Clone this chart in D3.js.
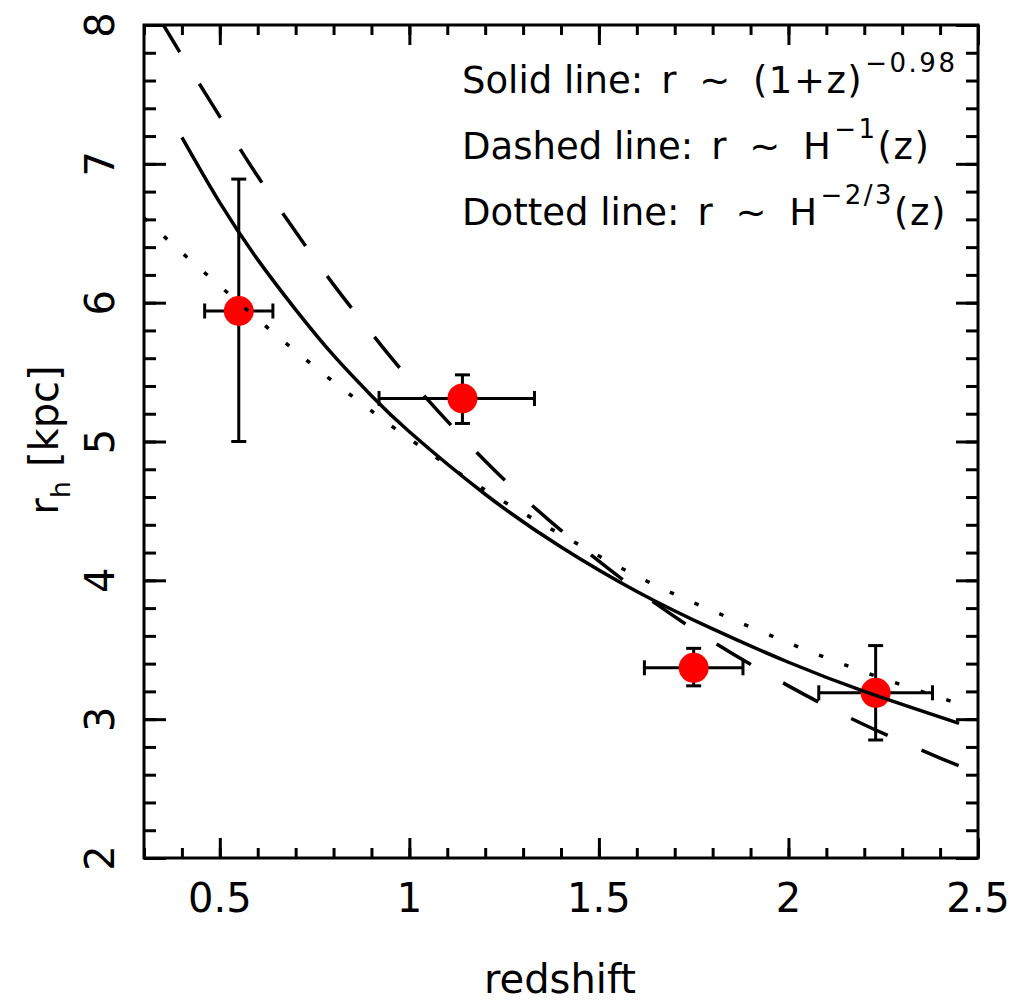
<!DOCTYPE html>
<html lang="en">
<head>
    <meta charset="UTF-8">
    <title>Half-light radius vs redshift</title>
    <script src="https://d3js.org/d3.v7.min.js"></script>
    <style>
        body, html {
            margin: 0;
            padding: 0;
            background: white;
            font-family: "DejaVu Sans", sans-serif;
            overflow: hidden;
        }
    </style>
</head>
<body>
    <div id="chart"></div>

    <script>
        // measured points with error bars
        const zObs   = [0.55, 1.14, 1.75, 2.23];
        const rObs   = [5.94, 5.31, 3.37, 3.19];
        const zLo    = [0.46, 0.92, 1.62, 2.08];
        const zHi    = [0.64, 1.33, 1.88, 2.38];
        const rLo    = [5.00, 5.13, 3.24, 2.85];
        const rHi    = [6.89, 5.48, 3.51, 3.53];

        // model curves, values
        const solidZ  = [0.40, 0.50, 0.60, 0.70, 0.80, 0.90, 1.00, 1.20, 1.40, 1.60, 1.80, 2.00, 2.20, 2.45];
        const solidR  = [7.19, 6.72, 6.31, 5.95, 5.62, 5.33, 5.07, 4.62, 4.24, 3.92, 3.65, 3.41, 3.20, 2.97];
        const dashedZ = [0.34, 0.40, 0.50, 0.60, 0.70, 0.80, 0.90, 1.00, 1.20, 1.40, 1.60, 1.80, 2.00, 2.20, 2.40, 2.50];
        const dashedR = [8.05, 7.78, 7.34, 6.91, 6.51, 6.13, 5.78, 5.45, 4.86, 4.36, 3.93, 3.56, 3.24, 2.96, 2.72, 2.61];
        const dottedZ = [0.30, 0.40, 0.50, 0.60, 0.70, 0.80, 0.90, 1.00, 1.20, 1.40, 1.60, 1.80, 2.00, 2.20, 2.45];
        const dottedR = [6.61, 6.36, 6.12, 5.88, 5.65, 5.43, 5.22, 5.02, 4.65, 4.33, 4.03, 3.78, 3.55, 3.34, 3.11];

        const xTicks = [0.5, 1, 1.5, 2, 2.5];
        const xTickLabels = ["0.5", "1", "1.5", "2", "2.5"];
        const yTicks = [2, 3, 4, 5, 6, 7, 8];
        const yTickLabels = ["2", "3", "4", "5", "6", "7", "8"];

        const width = 1013, height = 1002;
        const margin = {top: 25, right: 35, bottom: 144, left: 144};
        const innerWidth = width - margin.left - margin.right;
        const innerHeight = height - margin.top - margin.bottom;

        const svg = d3.select("#chart").append("svg")
            .attr("width", width)
            .attr("height", height);

        const g = svg.append("g")
            .attr("transform", `translate(${margin.left},${margin.top})`);

        const x = d3.scaleLinear().domain([0.3, 2.5]).range([0, innerWidth]);
        const y = d3.scaleLinear().domain([2, 8]).range([innerHeight, 0]);

        g.append("clipPath").attr("id", "plot-clip")
            .append("rect").attr("width", innerWidth).attr("height", innerHeight);

        // inward ticks on all four sides (pgplot style)
        const xMinor = x.ticks(22);
        const yMinor = y.ticks(30);
        function tickAxis(axisFn, scale, values, size, transform) {
            g.append("g")
                .attr("transform", transform)
                .call(axisFn(scale).tickValues(values).tickSize(size).tickFormat("").tickSizeOuter(0))
                .call(a => a.select(".domain").remove())
                .selectAll("line").attr("stroke", "black").attr("stroke-width", 3);
        }
        tickAxis(d3.axisBottom, x, xMinor, -10, `translate(0,${innerHeight})`);
        tickAxis(d3.axisBottom, x, xTicks, -20, `translate(0,${innerHeight})`);
        tickAxis(d3.axisTop, x, xMinor, -10, "translate(0,0)");
        tickAxis(d3.axisTop, x, xTicks, -20, "translate(0,0)");
        tickAxis(d3.axisLeft, y, yMinor, -12, "translate(0,0)");
        tickAxis(d3.axisLeft, y, yTicks, -22, "translate(0,0)");
        tickAxis(d3.axisRight, y, yMinor, -12, `translate(${innerWidth},0)`);
        tickAxis(d3.axisRight, y, yTicks, -22, `translate(${innerWidth},0)`);

        g.append("rect")
            .attr("width", innerWidth)
            .attr("height", innerHeight)
            .attr("fill", "none")
            .attr("stroke", "black")
            .attr("stroke-width", 3);

        // tick labels
        g.selectAll(".xlab")
            .data(xTicks)
            .enter().append("text")
            .attr("x", d => x(d))
            .attr("y", innerHeight + 54)
            .attr("text-anchor", "middle")
            .style("font-size", "40px")
            .text((d, i) => xTickLabels[i]);

        g.selectAll(".ylab")
            .data(yTicks)
            .enter().append("text")
            .attr("transform", d => `translate(-30,${y(d)}) rotate(-90)`)
            .attr("text-anchor", "middle")
            .style("font-size", "40px")
            .text((d, i) => yTickLabels[i]);

        // axis titles
        svg.append("text")
            .attr("x", margin.left + innerWidth / 2 - 1)
            .attr("y", 993)
            .attr("text-anchor", "middle")
            .style("font-size", "40px")
            .text("redshift");

        const ytitle = svg.append("text")
            .attr("transform", "translate(58,440) rotate(-90)")
            .attr("text-anchor", "middle")
            .style("font-size", "40px");
        ytitle.append("tspan").text("r");
        ytitle.append("tspan").attr("dy", 12).style("font-size", "27px").text("h");
        ytitle.append("tspan").attr("dy", -12).attr("dx", 14).text("[kpc]");

        // error bars
        const cap = 7.5;
        const eb = g.append("g").attr("stroke", "black").attr("stroke-width", 3);
        zObs.forEach((z, i) => {
            eb.append("line").attr("x1", x(zLo[i])).attr("x2", x(zHi[i]))
                .attr("y1", y(rObs[i])).attr("y2", y(rObs[i]));
            eb.append("line").attr("x1", x(z)).attr("x2", x(z))
                .attr("y1", y(rLo[i])).attr("y2", y(rHi[i]));
            [zLo[i], zHi[i]].forEach(v => eb.append("line")
                .attr("x1", x(v)).attr("x2", x(v))
                .attr("y1", y(rObs[i]) - cap).attr("y2", y(rObs[i]) + cap));
            [rLo[i], rHi[i]].forEach(v => eb.append("line")
                .attr("x1", x(z) - cap).attr("x2", x(z) + cap)
                .attr("y1", y(v)).attr("y2", y(v)));
        });

        g.selectAll(".pt")
            .data(zObs)
            .enter().append("circle")
            .attr("cx", d => x(d))
            .attr("cy", (d, i) => y(rObs[i]))
            .attr("r", 15)
            .attr("fill", "#ff0000");

        // model lines
        const line = d3.line()
            .x(d => x(d[0]))
            .y(d => y(d[1]))
            .curve(d3.curveNatural);
        const curves = g.append("g").attr("clip-path", "url(#plot-clip)");
        function drawCurve(zs, rs, dash) {
            curves.append("path")
                .datum(d3.zip(zs, rs))
                .attr("fill", "none")
                .attr("stroke", "black")
                .attr("stroke-width", 3.5)
                .attr("stroke-dasharray", dash)
                .attr("d", line);
        }
        drawCurve(solidZ, solidR, null);
        drawCurve(dashedZ, dashedR, "40 37");
        drawCurve(dottedZ, dottedR, "4.5 22.5");

        // legend text
        const legend = [
            {y: 93, lab: "Solid line:", base: "r \u223C (1+z)", sup: "\u22120.98", tail: ""},
            {y: 159, lab: "Dashed line:", base: "r \u223C H", sup: "\u22121", tail: "(z)"},
            {y: 225, lab: "Dotted line:", base: "r \u223C H", sup: "\u22122/3", tail: "(z)"}
        ];
        legend.forEach(l => {
            const t = svg.append("text")
                .attr("x", 462)
                .attr("y", l.y)
                .style("font-size", "37px");
            t.append("tspan").text(l.lab);
            t.append("tspan").attr("dx", 18).style("letter-spacing", "1.5px")
                .style("word-spacing", "8px").text(l.base);
            t.append("tspan").attr("dy", -21).attr("dx", 2).style("font-size", "26px")
                .style("letter-spacing", "2.5px").text(l.sup);
            if (l.tail) t.append("tspan").attr("dy", 21).style("letter-spacing", "1.5px").text(l.tail);
        });
    </script>
</body>
</html>
